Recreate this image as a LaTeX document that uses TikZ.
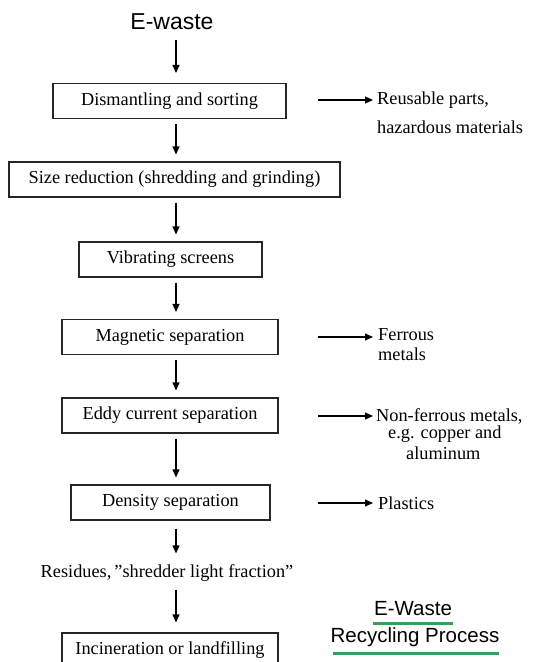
\documentclass[tikz,border=0pt]{standalone}
\usepackage{fontspec}
\setmainfont{Liberation Serif}
\newfontfamily\arialf{Liberation Sans}
\usetikzlibrary{arrows.meta}
\definecolor{ulgreen}{RGB}{52,160,90}
\begin{document}
\begin{tikzpicture}[x=1pt,y=-1pt,
  box/.style={draw=black!85, line width=1.1pt, minimum height=35pt, inner sep=0pt, font=\fontsize{18.3}{22}\selectfont},
  lbl/.style={inner sep=0pt, anchor=west, font=\fontsize{18.3}{22}\selectfont},
  arr/.style={line width=1.1pt, -{Triangle[length=8pt,width=7pt]}},
  vgap/.style={shorten <=5pt, shorten >=7pt},
  uline/.style={draw=ulgreen, line width=3pt},
  title/.style={inner sep=0pt, font=\arialf\fontsize{20.5}{24}\selectfont}
]
\fill[white] (0,0) rectangle (533,662);
\useasboundingbox (0,0) rectangle (533,662);
\clip (0,0) rectangle (533,662);

\coordinate (ax) at (176,0);
\coordinate (rx) at (318,0);

\node[inner sep=0pt, font=\arialf\fontsize{23}{27}\selectfont] (ew) at (172,22) {E-waste};
\node[box, minimum width=233pt] (b1) at (169.5,101) {Dismantling and sorting};
\node[box, minimum width=331pt] (b2) at (174.5,179.5) {Size reduction (shredding and grinding)};
\node[box, minimum width=183pt] (b3) at (170.5,259.5) {Vibrating screens};
\node[box, minimum width=216pt] (b4) at (170,337) {Magnetic separation};
\node[box, minimum width=216pt] (b5) at (170,415.5) {Eddy current separation};
\node[box, minimum width=199pt] (b6) at (170.5,502.5) {Density separation};
\node[inner sep=0pt, font=\fontsize{18.3}{22}\selectfont] (res) at (167,573) {Residues,\,''shredder light fraction''};
\node[box, minimum width=216pt] (b7) at (170,650.5) {Incineration or landfilling};

% side labels
\node[lbl] (r1a) at (377,100) {Reusable parts,};
\node[lbl] (r1b) at (377,127) {hazardous materials};
\node[lbl] (r4a) at (378,335) {Ferrous};
\node[lbl] (r4b) at (378,354) {metals};
\node[lbl] (r5a) at (376,416) {Non-ferrous metals,};
\node[lbl] (r5b) at (388,434) {e.g. copper and};
\node[lbl] (r5c) at (406,453) {aluminum};
\node[lbl] (r6a) at (378,503) {Plastics};

% title
\node[title] (t1) at (413,609) {E-Waste};
\node[title] (t2) at (415,637) {Recycling Process};
\draw[uline] (373,623) -- (453,623);
\draw[uline] (333,653) -- (499,653);

% vertical arrows
\draw[arr] (ax |- 0,40) -- (ax |- b1.north) [shorten >=10pt];
\draw[arr, vgap] (b1.south -| ax) -- (b2.north -| ax);
\draw[arr, vgap] (b2.south -| ax) -- (b3.north -| ax);
\draw[arr, vgap] (b3.south -| ax) -- (b4.north -| ax);
\draw[arr, vgap] (b4.south -| ax) -- (b5.north -| ax);
\draw[arr, vgap] (b5.south -| ax) -- (b6.north -| ax);
\draw[arr, shorten <=8pt, shorten >=11pt] (b6.south -| ax) -- (res.north -| ax);
\draw[arr, shorten <=8pt, shorten >=10pt] (res.south -| ax) -- (b7.north -| ax);

% side arrows
\draw[arr, shorten >=4pt] (rx |- r1a.west) -- (r1a.west);
\draw[arr, shorten >=5pt] (rx |- b4.east) -- (r4a.west |- b4.east);
\draw[arr, shorten >=3pt] (rx |- r5a.west) -- (r5a.west);
\draw[arr, shorten >=5pt] (rx |- r6a.west) -- (r6a.west);
\end{tikzpicture}
\end{document}
